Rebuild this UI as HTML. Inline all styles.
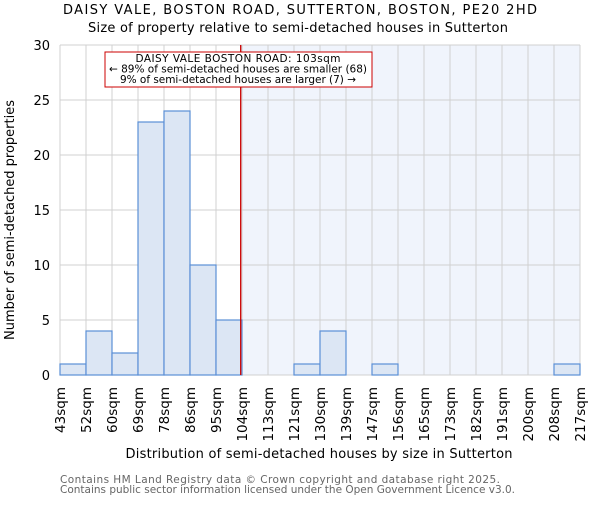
<!DOCTYPE html>
<html><head><meta charset="utf-8"><style>
body{margin:0;background:#fff}
svg{font-family:"DejaVu Sans","Liberation Sans",sans-serif}
</style></head><body>
<svg id="c" width="600" height="500" xmlns="http://www.w3.org/2000/svg">
<text x="300" y="14" text-anchor="middle" font-size="13" textLength="474" lengthAdjust="spacing">DAISY VALE, BOSTON ROAD, SUTTERTON, BOSTON, PE20 2HD</text>
<text x="298" y="32" text-anchor="middle" font-size="13" textLength="420" lengthAdjust="spacing">Size of property relative to semi-detached houses in Sutterton</text>
<text x="319" y="458" text-anchor="middle" font-size="13" textLength="387" lengthAdjust="spacing">Distribution of semi-detached houses by size in Sutterton</text>
<text transform="translate(14,220) rotate(-90)" text-anchor="middle" font-size="13" textLength="240" lengthAdjust="spacing">Number of semi-detached properties</text>
<text x="60" y="483" font-size="10.5" fill="#666" textLength="440" lengthAdjust="spacing">Contains HM Land Registry data © Crown copyright and database right 2025.</text>
<text x="60" y="493" font-size="10.5" fill="#666" textLength="455" lengthAdjust="spacing">Contains public sector information licensed under the Open Government Licence v3.0.</text>
</svg>
<script>
const labels=["43sqm","52sqm","60sqm","69sqm","78sqm","86sqm","95sqm","104sqm","113sqm","121sqm","130sqm","139sqm","147sqm","156sqm","165sqm","173sqm","182sqm","191sqm","200sqm","208sqm","217sqm"];
const counts=[1,4,2,23,24,10,5,0,0,1,4,0,1,0,0,0,0,0,0,1];
const yTicks=[0,5,10,15,20,25,30];
const markerIndex=6.95;
const svg=document.getElementById('c');
const NS="http://www.w3.org/2000/svg";
const L=60,R=580,T=45,B=375,nb=counts.length;
const bw=(R-L)/nb;
const xs=i=>L+i*bw;
const ys=v=>B-(v/30)*(B-T);
function mk(t,a,p){const e=document.createElementNS(NS,t);for(const k in a)e.setAttribute(k,a[k]);(p||svg).appendChild(e);return e;}
const mx=xs(markerIndex);
let e=mk('rect',{x:mx,y:T,width:R-mx,height:B-T,fill:'#f0f4fc'});


for(let i=0;i<=nb;i++){e=mk('line',{x1:xs(i),x2:xs(i),y1:T,y2:B,stroke:'#d0d0d0'});

}
yTicks.forEach(v=>{e=mk('line',{x1:L,x2:R,y1:ys(v),y2:ys(v),stroke:'#d0d0d0'});


e=mk('text',{x:L-10,y:ys(v)+5,'text-anchor':'end','font-size':13});e.textContent=v;

});
counts.forEach((c,i)=>{if(!c)return;e=mk('rect',{x:xs(i),y:ys(c),width:bw,height:B-ys(c),fill:'#dce6f4',stroke:'#5b8fd6','stroke-width':1.2});

});
labels.forEach((l,i)=>{e=mk('text',{transform:`translate(${xs(i)+5},387) rotate(-90)`,'text-anchor':'end','font-size':13.5});e.textContent=l;

});
e=mk('line',{x1:mx,x2:mx,y1:T,y2:B,stroke:'#cc0000','stroke-width':1.3});


const g=mk('g',{});


mk('rect',{x:105,y:52,width:267,height:35,fill:'#fff',stroke:'#cc0000'},g);
const ann=["DAISY VALE BOSTON ROAD: 103sqm","← 89% of semi-detached houses are smaller (68)","9% of semi-detached houses are larger (7) →"];
const annW=[205,258,236];
ann.forEach((t,k)=>{const tx=mk('text',{x:238,y:62+k*10.5,'text-anchor':'middle','font-size':10.5,textLength:annW[k],lengthAdjust:'spacing'},g);tx.textContent=t;});
</script>
</body></html>
